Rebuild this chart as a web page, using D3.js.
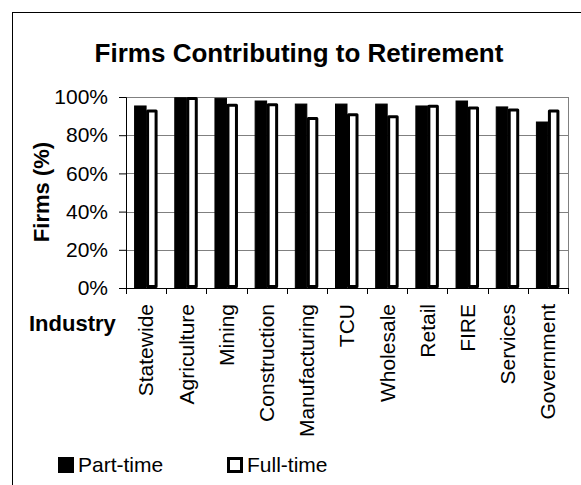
<!DOCTYPE html>
<html>
<head>
<meta charset="utf-8">
<script src="https://cdn.jsdelivr.net/npm/d3@7"></script>
<style>
  body { margin: 0; background: #fff; }
  text { font-family: 'Liberation Sans', Arial, sans-serif; fill: #000; }
</style>
</head>
<body>
<div id="chart"></div>
<script>
// categories and values (percent of firms)
var industries = ['Statewide', 'Agriculture', 'Mining', 'Construction', 'Manufacturing',
  'TCU', 'Wholesale', 'Retail', 'FIRE', 'Services', 'Government'];
var partTime = [95.3, 99.6, 99.3, 97.9, 96.3, 96.3, 96.3, 95.3, 97.9, 94.8, 86.9];
var fullTime = [93.5, 100, 96.5, 96.7, 89.5, 91.5, 90.5, 96, 95, 94, 93.5];
var seriesNames = ['Part-time', 'Full-time'];
var yTicks = [0, 20, 40, 60, 80, 100];

var W = 581, H = 485;
var margin = { top: 97, right: 13, bottom: 197, left: 126 },
  width = W - margin.left - margin.right,
  height = H - margin.top - margin.bottom;

var svg = d3.select('#chart').append('svg')
  .attr('width', W)
  .attr('height', H);

// outer chart frame (runs off the right and bottom edges)
svg.append('rect')
  .attr('x', 12.5).attr('y', 12.5)
  .attr('width', W).attr('height', H)
  .attr('fill', 'none').attr('stroke', '#000').attr('stroke-width', 1);

svg.append('text')
  .attr('x', 299).attr('y', 62)
  .attr('text-anchor', 'middle')
  .style('font-size', '26px').style('font-weight', 'bold')
  .text('Firms Contributing to Retirement');

var g = svg.append('g')
  .attr('transform', 'translate(' + margin.left + ',' + margin.top + ')');

var x = d3.scaleBand().domain(industries).range([0, width]);
var y = d3.scaleLinear().domain([0, 100]).range([height, 0]);

// gridlines
g.selectAll('.grid').data(yTicks.slice(1))
  .enter().append('line')
  .attr('x1', 0).attr('x2', width)
  .attr('y1', function (d) { return Math.round(y(d)) + 0.5; })
  .attr('y2', function (d) { return Math.round(y(d)) + 0.5; })
  .attr('stroke', '#808080');

// plot border on the right
g.append('line')
  .attr('x1', width + 0.5).attr('x2', width + 0.5)
  .attr('y1', 0).attr('y2', height)
  .attr('stroke', '#808080');

var barW = 11.5;
var groups = g.selectAll('.grp').data(industries)
  .enter().append('g')
  .attr('transform', function (d) {
    return 'translate(' + (x(d) + x.bandwidth() / 2) + ',0)';
  });

groups.append('rect')
  .attr('x', -barW)
  .attr('y', function (d, i) { return y(partTime[i]); })
  .attr('width', barW)
  .attr('height', function (d, i) { return height - y(partTime[i]); })
  .attr('fill', '#000').attr('stroke', '#000').attr('stroke-width', 1);

groups.append('rect')
  .attr('x', 1.5)
  .attr('y', function (d, i) { return y(fullTime[i]) + 1.5; })
  .attr('width', barW - 3)
  .attr('height', function (d, i) { return height - y(fullTime[i]) - 3; })
  .attr('fill', '#fff').attr('stroke', '#000').attr('stroke-width', 3)
  .attr('stroke-linejoin', 'round');

// y axis
var yAxis = g.append('g')
  .call(d3.axisLeft(y).tickValues(yTicks).tickSize(7).tickPadding(11)
    .tickFormat(function (d) { return d + '%'; }));
yAxis.select('.domain').attr('stroke', '#000');
yAxis.selectAll('text').style('font-size', '21px');

// x axis
var xAxis = g.append('g')
  .attr('transform', 'translate(0,' + height + ')')
  .call(d3.axisBottom(x).tickSize(0).tickPadding(0));
xAxis.select('.domain').attr('stroke', '#000');
xAxis.selectAll('text')
  .style('font-size', '21px')
  .attr('text-anchor', 'end')
  .attr('transform', 'rotate(-90)')
  .attr('x', -16).attr('y', 0).attr('dy', '0.35em');
// category separator ticks
xAxis.selectAll('.sep').data(industries.concat(['end']))
  .enter().append('line')
  .attr('x1', function (d, i) { return Math.round(i * x.bandwidth()) + 0.5; })
  .attr('x2', function (d, i) { return Math.round(i * x.bandwidth()) + 0.5; })
  .attr('y1', 0).attr('y2', 6)
  .attr('stroke', '#000');

// axis titles
svg.append('text')
  .attr('transform', 'translate(49,192) rotate(-90)')
  .attr('text-anchor', 'middle')
  .style('font-size', '22px').style('font-weight', 'bold')
  .text('Firms (%)');

svg.append('text')
  .attr('x', 29).attr('y', 331)
  .style('font-size', '22px').style('font-weight', 'bold')
  .text('Industry');

// legend
var legend = svg.append('g');
var legendX = [58, 227];
seriesNames.forEach(function (name, i) {
  var lg = legend.append('g').attr('transform', 'translate(' + legendX[i] + ',457)');
  lg.append('rect')
    .attr('x', i ? 1.5 : 0).attr('y', i ? 1.5 : 0)
    .attr('width', i ? 13 : 16).attr('height', i ? 13 : 16)
    .attr('fill', i ? '#fff' : '#000')
    .attr('stroke', '#000').attr('stroke-width', i ? 3 : 0);
  lg.append('text')
    .attr('x', 20).attr('y', 15)
    .style('font-size', '21px')
    .text(name);
});
</script>
</body>
</html>
